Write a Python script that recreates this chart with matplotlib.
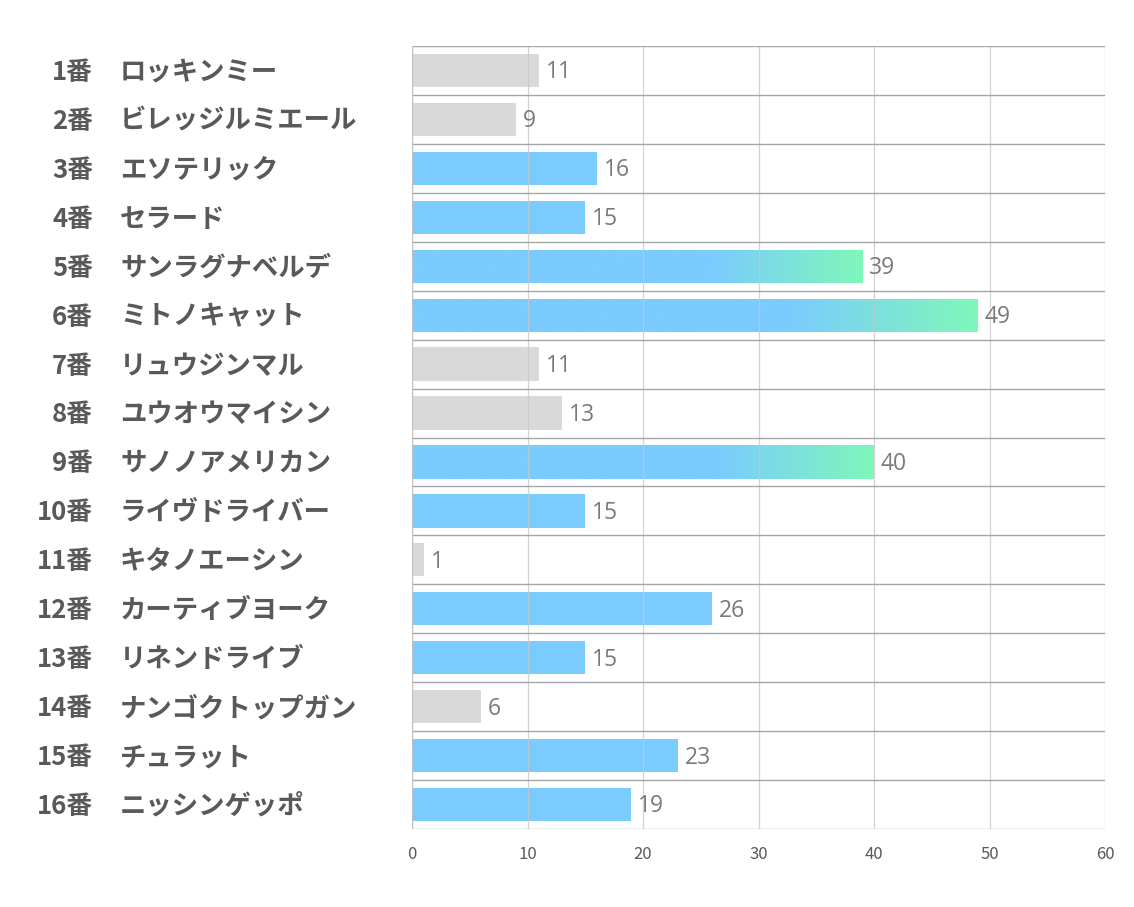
import numpy as np
import matplotlib.pyplot as plt
import matplotlib.transforms as mtransforms
from matplotlib.colors import LinearSegmentedColormap

plt.rcParams['font.family'] = ['Noto Sans CJK JP', 'DejaVu Sans']

numbers = ['1番', '2番', '3番', '4番', '5番', '6番', '7番', '8番',
           '9番', '10番', '11番', '12番', '13番', '14番', '15番', '16番']
names = ['ロッキンミー', 'ビレッジルミエール', 'エソテリック', 'セラード',
         'サンラグナベルデ', 'ミトノキャット', 'リュウジンマル', 'ユウオウマイシン',
         'サノノアメリカン', 'ライヴドライバー', 'キタノエーシン', 'カーティブヨーク',
         'リネンドライブ', 'ナンゴクトップガン', 'チュラット', 'ニッシンゲッポ']
values = [11, 9, 16, 15, 39, 49, 11, 13, 40, 15, 1, 26, 15, 6, 23, 19]
xticks = [0, 10, 20, 30, 40, 50, 60]

GRAY = '#d9d9d9'
BLUE = '#7acbff'
GREEN = '#7ff7ba'
grad_cmap = LinearSegmentedColormap.from_list(
    'bg', [(0, BLUE), (0.66, BLUE), (1, GREEN)], N=256)

fig = plt.figure(figsize=(11.34, 9.07), dpi=100)
ax = fig.add_axes([412 / 1134, 1 - 829 / 907, (1105 - 412) / 1134, (829 - 46) / 907])

n = len(values)
ys = np.arange(n)
h = 0.68

for y, v in zip(ys, values):
    if v < 15:
        ax.barh(y, v, height=h, color=GRAY, zorder=2)
    elif v < 39:
        ax.barh(y, v, height=h, color=BLUE, zorder=2)
    else:
        bar = ax.barh(y, v, height=h, color='none', zorder=2)[0]
        grad = np.linspace(0, 1, 256).reshape(1, -1)
        im = ax.imshow(grad, cmap=grad_cmap, aspect='auto',
                       extent=[0, v, y + h / 2, y - h / 2], zorder=2)
        im.set_clip_path(bar)
    ax.text(v + 0.6, y + 0.04, str(v), va='center', ha='left', fontsize=16.5,
            color='#7a7a7a', family=['Open Sans', 'DejaVu Sans'], zorder=4)

ax.set_xlim(0, 60)
ax.set_ylim(n - 0.5, -0.5)

# grid lines
for x in xticks[1:]:
    ax.axvline(x, color='#c8c8c8', lw=0.9, zorder=3, alpha=0.8)
for b in np.arange(-0.5, n, 1):
    ax.axhline(b, color='#a6a6a6', lw=1.0, zorder=3)
ax.axvline(0, color='#c0c0c0', lw=1.0, zorder=3)

for s in ax.spines.values():
    s.set_visible(False)
ax.set_yticks([])
ax.set_xticks(xticks)
ax.tick_params(axis='x', length=0, pad=12, labelsize=12, labelcolor='#595959')

# row labels
trans = mtransforms.blended_transform_factory(fig.transFigure, ax.transData)
for y, num, name in zip(ys, numbers, names):
    fig.text(93 / 1134, y + 0.04, num, transform=trans, ha='right', va='center',
             fontsize=18.5, fontweight='bold', color='#595959')
    fig.text(120 / 1134, y + 0.04, name, transform=trans, ha='left', va='center',
             fontsize=19, fontweight='bold', color='#595959')

fig.savefig('out.png', dpi=100, facecolor='white')
